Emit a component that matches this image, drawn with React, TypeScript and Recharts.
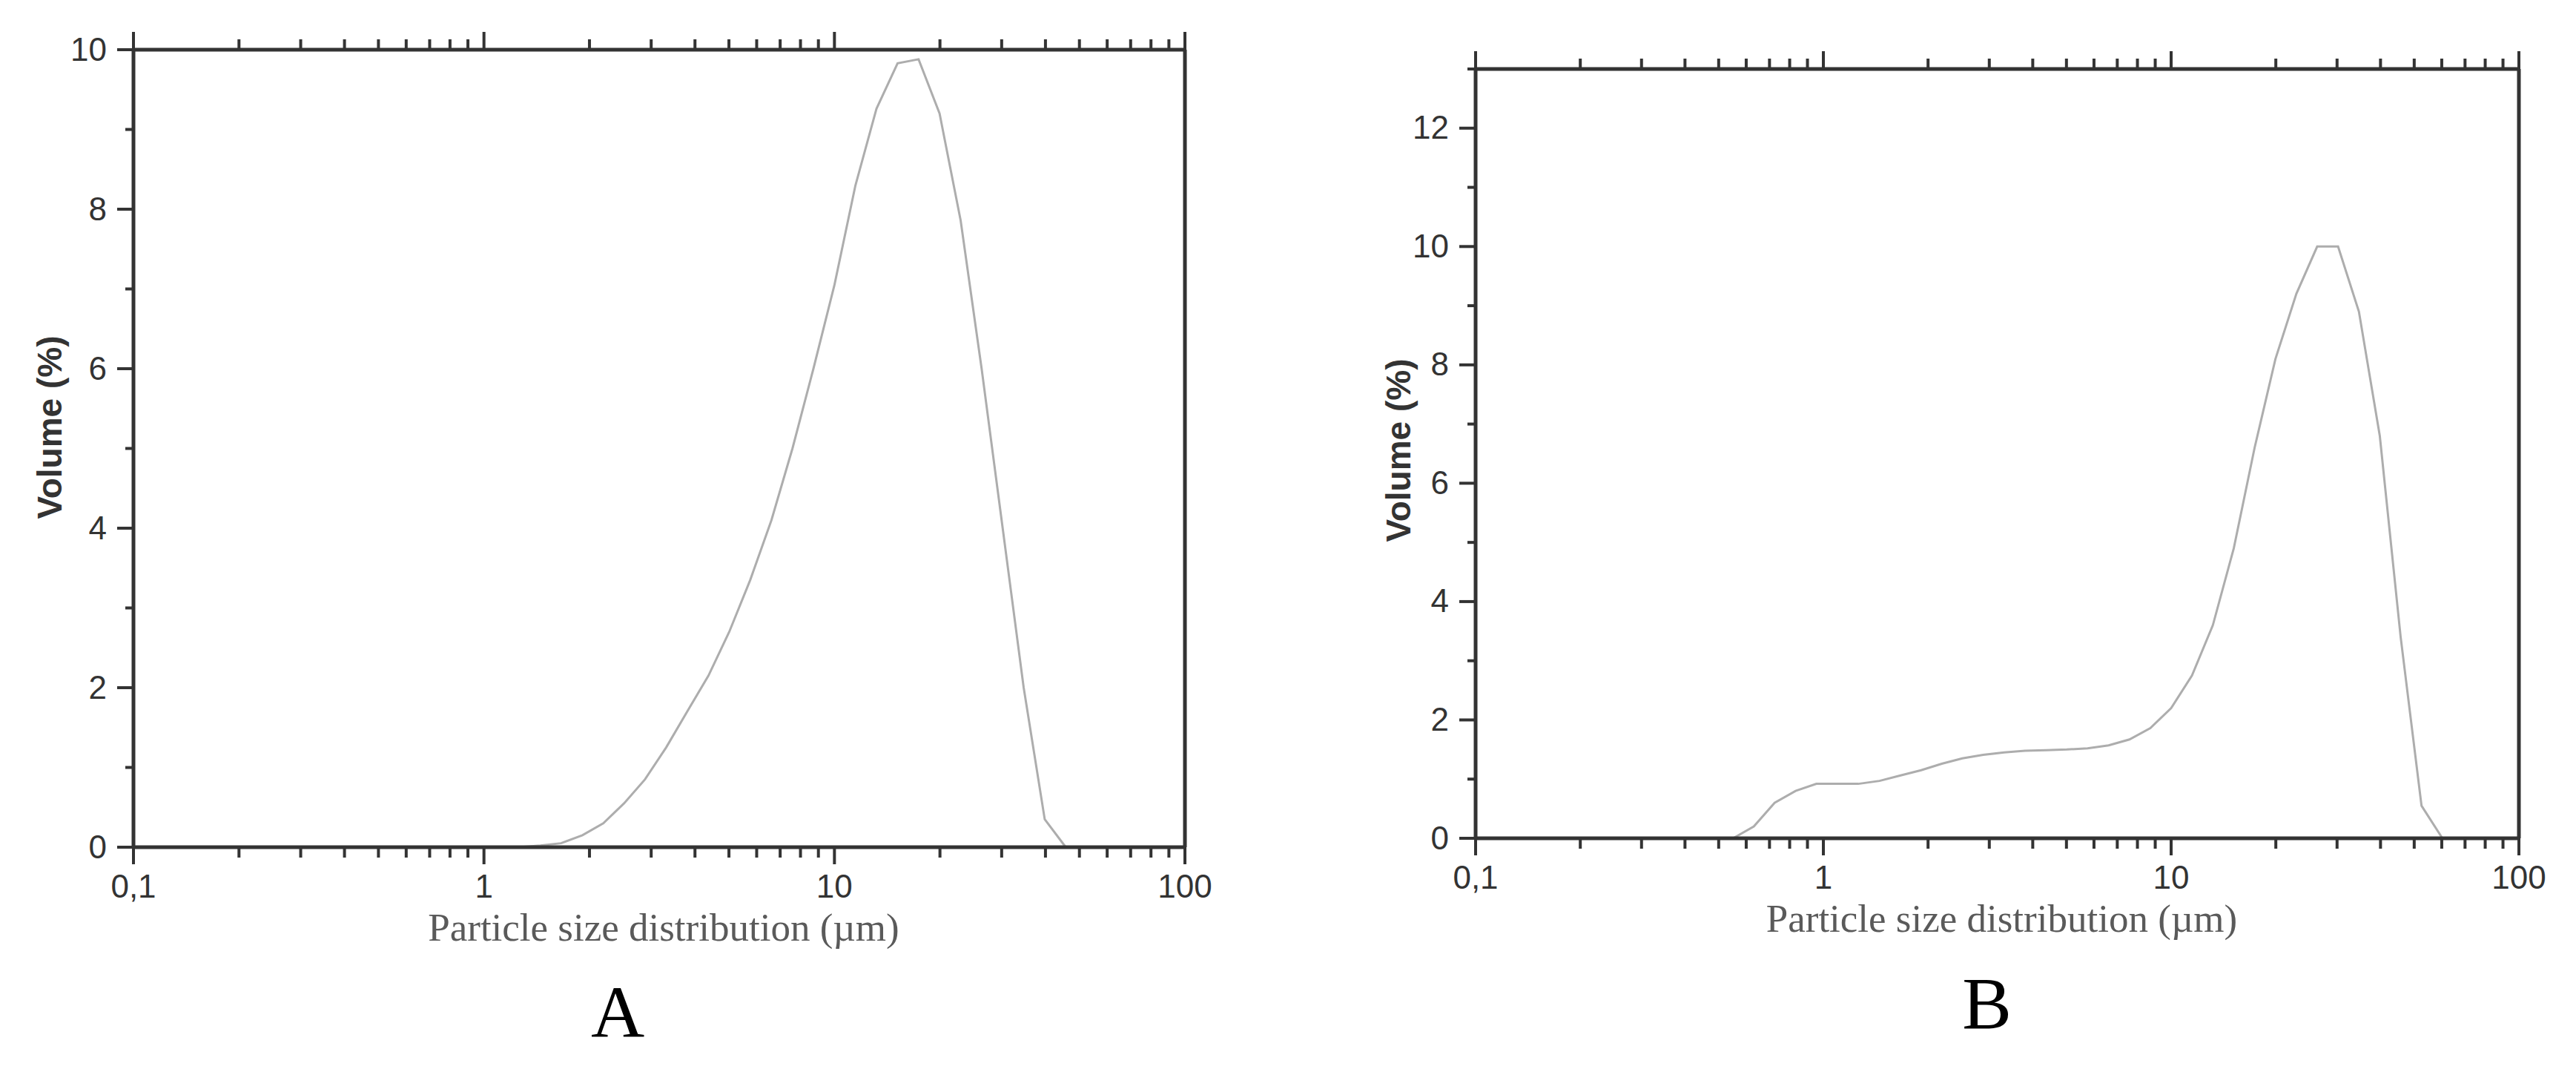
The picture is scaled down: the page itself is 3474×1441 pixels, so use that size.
import React from 'react';
import { Label, Line, LineChart, XAxis, YAxis } from 'recharts';

// particle size (µm) and volume (%)
const sizeA = [1.26, 1.45, 1.66, 1.91, 2.19, 2.51, 2.88, 3.31, 3.8, 4.37, 5.01, 5.75, 6.61, 7.59, 8.71, 10.0, 11.48, 13.18, 15.14, 17.38, 19.95, 22.91, 26.3, 30.2, 34.67, 39.81, 45.71];
const volA = [0, 0.02, 0.05, 0.15, 0.3, 0.55, 0.85, 1.25, 1.7, 2.15, 2.7, 3.35, 4.1, 5.0, 6.0, 7.05, 8.3, 9.26, 9.83, 9.88, 9.2, 7.86, 6.0, 4.0, 2.0, 0.35, 0];

const sizeB = [0.55, 0.631, 0.724, 0.832, 0.955, 1.1, 1.26, 1.45, 1.66, 1.91, 2.19, 2.51, 2.88, 3.31, 3.8, 4.37, 5.01, 5.75, 6.61, 7.59, 8.71, 10.0, 11.48, 13.18, 15.14, 17.38, 19.95, 22.91, 26.3, 30.2, 34.67, 39.81, 45.71, 52.48, 60.26];
const volB = [0, 0.2, 0.6, 0.8, 0.92, 0.92, 0.92, 0.97, 1.06, 1.15, 1.26, 1.35, 1.41, 1.45, 1.48, 1.49, 1.5, 1.52, 1.57, 1.67, 1.86, 2.2, 2.75, 3.6, 4.9, 6.6, 8.1, 9.2, 10.0, 10.0, 8.9, 6.8, 3.4, 0.55, 0];

const xTicks = [0.1, 0.2, 0.3, 0.4, 0.5, 0.6, 0.7, 0.8, 0.9, 1, 2, 3, 4, 5, 6, 7, 8, 9, 10, 20, 30, 40, 50, 60, 70, 80, 90, 100];
const xMajor = [0.1, 1, 10, 100];
const xLabels = ['0,1', '1', '10', '100'];
const yTicksA = [0, 1, 2, 3, 4, 5, 6, 7, 8, 9, 10];
const yTicksB = [0, 1, 2, 3, 4, 5, 6, 7, 8, 9, 10, 11, 12, 13];

const AXIS = '#333';
const CURVE = '#adadad';
const SANS = '"Liberation Sans", Arial, sans-serif';
const SERIF = '"Liberation Serif", "Times New Roman", serif';

const dataA = sizeA.map((s, i) => ({ size: s, vol: volA[i] }));
const dataB = sizeB.map((s, i) => ({ size: s, vol: volB[i] }));

const XTickBottom = ({ x, y, payload }: any) => {
  const idx = xMajor.indexOf(payload.value);
  const major = idx >= 0;
  return (
    <g>
      <line x1={x} y1={y} x2={x} y2={y + (major ? 23 : 14)} stroke={AXIS} strokeWidth={4} />
      {major && (
        <text x={x} y={y + 68} textAnchor="middle" fontFamily={SANS} fontSize={44} fill="#333">
          {xLabels[idx]}
        </text>
      )}
    </g>
  );
};

const XTickTop = ({ x, y, payload }: any) => {
  const major = xMajor.includes(payload.value);
  return <line x1={x} y1={y} x2={x} y2={y - (major ? 24 : 14)} stroke={AXIS} strokeWidth={4} />;
};

const YTickLeft = ({ x, y, payload }: any) => {
  const major = payload.value % 2 === 0;
  return (
    <g>
      <line x1={x} y1={y} x2={x - (major ? 22 : 11)} y2={y} stroke={AXIS} strokeWidth={4} />
      {major && (
        <text x={x - 36} y={y} dy="0.33em" textAnchor="end" fontFamily={SANS} fontSize={44} fill="#333">
          {payload.value}
        </text>
      )}
    </g>
  );
};

const YTickRight = ({ x, y, payload }: any) => {
  const major = payload.value % 2 === 0;
  return <line x1={x} y1={y} x2={x + (major ? 22 : 11)} y2={y} stroke={AXIS} strokeWidth={4} />;
};

function Panel({
  data,
  yMax,
  yTicks,
  width,
  height,
  margin,
  letter,
  letterDx,
  titleY,
}: {
  data: { size: number; vol: number }[];
  yMax: number;
  yTicks: number[];
  width: number;
  height: number;
  margin: { top: number; right: number; bottom: number; left: number };
  letter: string;
  letterDx: number;
  titleY: { x: number; y: number };
}) {
  return (
    <LineChart width={width} height={height} data={data} margin={margin}>
      <XAxis
        dataKey="size"
        type="number"
        scale="log"
        domain={[0.1, 100]}
        allowDataOverflow
        ticks={xTicks}
        interval={0}
        tickSize={0}
        tickMargin={0}
        tickLine={false}
        tick={<XTickBottom />}
        axisLine={{ stroke: AXIS, strokeWidth: 5 }}
        height={100}
      >
        <Label
          content={({ viewBox }: any) => (
            <g>
              <text
                x={viewBox.x + viewBox.width / 2 + 6}
                y={viewBox.y + 126}
                textAnchor="middle"
                fontFamily={SERIF}
                fontSize={53}
                fill="#5a5a5a"
              >
                Particle size distribution (µm)
              </text>
              <text
                x={viewBox.x + viewBox.width / 2 + letterDx}
                y={viewBox.y + 256}
                textAnchor="middle"
                fontFamily={SERIF}
                fontSize={100}
                fill="#000"
              >
                {letter}
              </text>
            </g>
          )}
        />
      </XAxis>
      <XAxis
        xAxisId="top"
        orientation="top"
        dataKey="size"
        type="number"
        scale="log"
        domain={[0.1, 100]}
        allowDataOverflow
        ticks={xTicks}
        interval={0}
        tickSize={0}
        tickMargin={0}
        tickLine={false}
        tick={<XTickTop />}
        axisLine={{ stroke: AXIS, strokeWidth: 5 }}
        height={30}
      />
      <YAxis
        type="number"
        domain={[0, yMax]}
        ticks={yTicks}
        interval={0}
        tickSize={0}
        tickMargin={0}
        tickLine={false}
        tick={<YTickLeft />}
        axisLine={{ stroke: AXIS, strokeWidth: 5 }}
        width={120}
      >
        <Label
          content={() => (
            <text
              x={titleY.x}
              y={titleY.y}
              transform={`rotate(-90 ${titleY.x} ${titleY.y})`}
              textAnchor="middle"
              dominantBaseline="central"
              fontFamily={SANS}
              fontWeight="bold"
              fontSize={46}
              fill="#333"
            >
              Volume (%)
            </text>
          )}
        />
      </YAxis>
      <YAxis
        yAxisId="right"
        orientation="right"
        type="number"
        domain={[0, yMax]}
        ticks={yTicks}
        interval={0}
        tickSize={0}
        tickMargin={0}
        tickLine={false}
        tick={<YTickRight />}
        axisLine={{ stroke: AXIS, strokeWidth: 5 }}
        width={30}
      />
      <Line
        type="linear"
        dataKey="vol"
        stroke={CURVE}
        strokeWidth={3}
        dot={false}
        activeDot={false}
        isAnimationActive={false}
      />
    </LineChart>
  );
}

export default function App() {
  return (
    <div style={{ position: 'absolute', left: 0, top: 0, width: 3474, height: 1441, background: '#fff' }}>
      <div style={{ position: 'absolute', left: 0, top: 0 }}>
        <Panel
          data={dataA}
          yMax={10}
          yTicks={yTicksA}
          width={1700}
          height={1441}
          margin={{ top: 37, right: 72, bottom: 199, left: 60 }}
          letter="A"
          letterDx={-56}
          titleY={{ x: 67, y: 576 }}
        />
      </div>
      <div style={{ position: 'absolute', left: 1750, top: 0 }}>
        <Panel
          data={dataB}
          yMax={13}
          yTicks={yTicksB}
          width={1724}
          height={1441}
          margin={{ top: 63, right: 47, bottom: 211, left: 120 }}
          letter="B"
          letterDx={-14}
          titleY={{ x: 136, y: 607 }}
        />
      </div>
    </div>
  );
}
